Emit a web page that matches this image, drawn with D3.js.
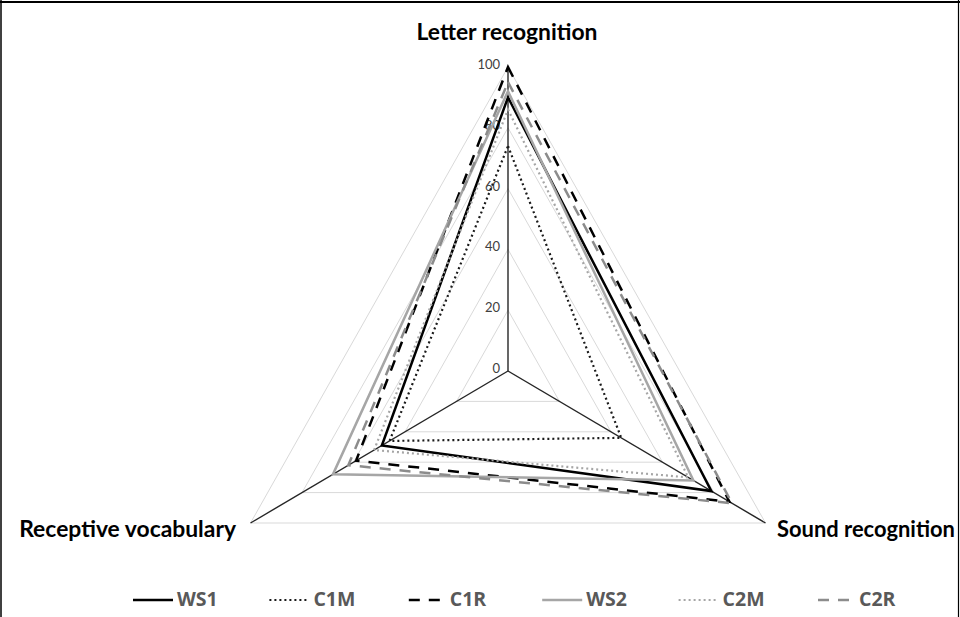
<!DOCTYPE html>
<html><head><meta charset="utf-8">
<script src="https://cdn.jsdelivr.net/npm/d3@7"></script>
<style>html,body{margin:0;padding:0;background:#fff;}svg{display:block;}</style>
</head><body>
<svg id="chart" width="960" height="617"></svg>
<script>
// ---- data ----
const categories = ["Letter recognition", "Sound recognition", "Receptive vocabulary"];
const seriesNames = ["WS1", "C1M", "C1R", "WS2", "C2M", "C2R"];
const WS1 = [90, 79, 49];
const C1M = [74, 44, 46];
const C1R = [100, 86, 59];
const WS2 = [92, 72, 68];
const C2M = [86, 70, 52];
const C2R = [95, 87, 62];
const tickValues = [0, 20, 40, 60, 80, 100];

// ---- styles ----
const styles = {
  WS1: {color: "#000000", width: 2.5, dash: null},
  C1M: {color: "#1a1a1a", width: 2.2, dash: "2,3"},
  C1R: {color: "#000000", width: 2.5, dash: "11,9"},
  WS2: {color: "#a6a6a6", width: 2.5, dash: null},
  C2M: {color: "#a6a6a6", width: 2.2, dash: "2,3"},
  C2R: {color: "#8c8c8c", width: 2.5, dash: "11,9"}
};
const seriesData = {WS1, C1M, C1R, WS2, C2M, C2R};

const svg = d3.select("#chart");
const cx = 508, cy = 371, R = 304, kx = 0.978;
const r = d3.scaleLinear().domain([0, 100]).range([0, R]);
const angle = d3.scalePoint().domain(categories).range([0, 2 * Math.PI * 2 / 3]);
const px = (v, c) => cx + kx * r(v) * Math.sin(angle(c));
const py = (v, c) => cy - r(v) * Math.cos(angle(c));

// frame
svg.append("line").attr("x1", 0).attr("x2", 960).attr("y1", 2).attr("y2", 2).attr("stroke", "#000").attr("stroke-width", 2);
svg.append("line").attr("x1", 1).attr("x2", 1).attr("y1", 0).attr("y2", 617).attr("stroke", "#000").attr("stroke-width", 1.5);
svg.append("line").attr("x1", 958.5).attr("x2", 958.5).attr("y1", 0).attr("y2", 617).attr("stroke", "#000").attr("stroke-width", 1.2);

// grid rings
const ring = d3.line().x(d => px(d.v, d.c)).y(d => py(d.v, d.c));
tickValues.filter(t => t > 0).forEach(t => {
  const pts = categories.map(c => ({v: t, c}));
  svg.append("path").attr("d", ring(pts) + "Z")
    .attr("fill", "none").attr("stroke", "#d9d9d9").attr("stroke-width", 1);
});

// spokes
categories.forEach(c => {
  svg.append("line").attr("x1", px(0, c)).attr("y1", py(0, c))
    .attr("x2", px(100, c)).attr("y2", py(100, c))
    .attr("stroke", "#262626").attr("stroke-width", 1.4);
});

// tick labels
svg.append("g").selectAll("text").data(tickValues).join("text")
  .attr("x", cx - 8).attr("y", d => py(d, categories[0]) + 2)
  .attr("text-anchor", "end").attr("font-family", "Lato, 'Open Sans', sans-serif")
  .attr("font-size", 13).attr("fill", "#404040").text(d => d);

// series
const seriesLine = d3.line().x(d => px(d.v, d.c)).y(d => py(d.v, d.c));
seriesNames.forEach(n => {
  const pts = categories.map((c, i) => ({v: seriesData[n][i], c}));
  const s = styles[n];
  svg.append("path").attr("d", seriesLine(pts) + "Z")
    .attr("fill", "none").attr("stroke", s.color).attr("stroke-width", s.width)
    .attr("stroke-dasharray", s.dash).attr("stroke-linejoin", "miter").attr("stroke-miterlimit", 10);
});

// category labels
const catFont = "Lato, 'Open Sans', sans-serif";
const probe = svg.append("text").attr("font-family", catFont).attr("font-weight", "bold").attr("font-size", 20).text(categories[0]);
const pw = probe.node().getComputedTextLength();
probe.remove();
const catSize = 20 * 181 / pw;
const catPos = [
  {x: 507, y: 40, anchor: "middle"},
  {x: 777, y: 537, anchor: "start"},
  {x: 236, y: 537, anchor: "end"}
];
categories.forEach((c, i) => {
  const t = svg.append("text").attr("x", catPos[i].x).attr("y", catPos[i].y)
    .attr("text-anchor", catPos[i].anchor).attr("font-family", catFont)
    .attr("font-weight", "bold").attr("font-size", catSize).attr("fill", "#000").text(c);
  if (i === 1) {
    const w = t.node().getComputedTextLength();
    if (catPos[i].x + w > 955) t.attr("font-size", catSize * (955 - catPos[i].x) / w);
  }
});

// legend
const legFont = "'Liberation Sans Narrow', 'Open Sans', sans-serif";
const probe2 = svg.append("text").attr("font-family", legFont).attr("font-weight", "bold").attr("font-size", 16).text("C1M");
const pw2 = probe2.node().getComputedTextLength();
probe2.remove();
const legSize = 16 * 42 / pw2;
const legX = d3.scalePoint().domain(seriesNames).range([133, 815]);
const lg = svg.append("g");
seriesNames.forEach(n => {
  const s = styles[n];
  const x0 = legX(n);
  const dashed = s.dash && s.dash.startsWith("11");
  const xa = dashed ? x0 + 3 : x0, xb = dashed ? x0 + 34 : x0 + 40;
  lg.append("line").attr("x1", xa).attr("x2", xb).attr("y1", 600).attr("y2", 600)
    .attr("stroke", s.color).attr("stroke-width", s.width).attr("stroke-dasharray", s.dash);
  lg.append("text").attr("x", x0 + 44).attr("y", 606).attr("font-family", legFont)
    .attr("font-weight", "bold").attr("font-size", legSize).attr("fill", "#595959").text(n);
});
</script>
</body></html>
